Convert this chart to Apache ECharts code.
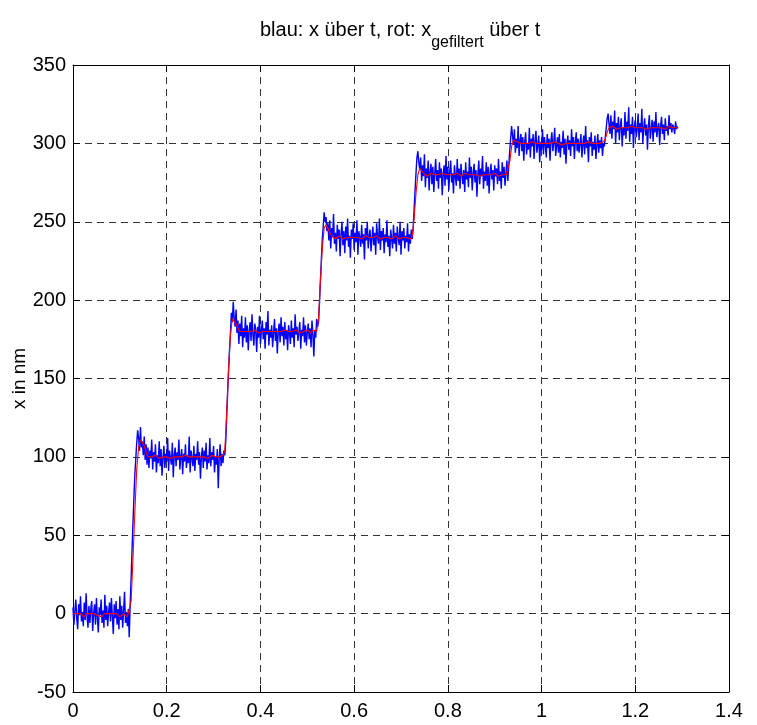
<!DOCTYPE html>
<html lang="de">

<head>
  <meta charset="UTF-8">
  <title>x ueber t</title>
  <style>
    html, body {
      margin: 0;
      padding: 0;
      background: #fff;
    }

    #chart {
      width: 757px;
      height: 725px;
    }
  </style>
  <script src="https://cdn.jsdelivr.net/npm/echarts@6/dist/echarts.min.js"></script>
</head>

<body>
  <div id="chart"></div>
  <script>
    // sample spacing (seconds): raw trace is sampled twice as dense as the filtered one
    var DT_BLUE = 0.002;
    var DT_RED = 0.004;

    // blue: raw x over t (nm)
    var blueNm = [
      // level 0
      4, -7, 2, 9, -3, -10, 6, -1, 11, -5,
      1, -8, 7, -4, 13, -2, -9, 5, -6, 3,
      8, -11, 0, 6, -7, 10, -3, -12, 4, -1,
      9, -6, 2, -9, 12, -4, 5, -8, 1, 7,
      -5, 10, -2, -13, 6, -3, 8, -7, 3, -10,
      11, -4, 5, -9, 2, 14, -6, 1, -8, 3,
      // step to 100
      -15, 6, 22, 41, 58, 74, 89, 99, 109, 117,
      112, 104, 119, 106, 110, 101, 113, 98, 108, 95,
      106, 93, 104, 99, 111, 92, 103, 97, 108, 90,
      101, 96, 110, 94, 105, 88, 99, 107, 93, 102,
      97, 112, 91, 104, 99, 95, 109, 87, 101, 106,
      94, 103, 98, 111, 92, 100, 105, 89, 102, 97,
      108, 93, 101, 96, 113, 90, 104, 99, 94, 107,
      91, 102, 98, 110, 95, 103, 86, 100, 106, 93,
      104, 97, 109, 92, 101, 96, 112, 94, 103, 98,
      107, 90, 100, 95, 105, 80, 99, 108, 94, 102,
      96, 104,
      // step to 180
      101, 110, 126, 141, 155, 168, 179, 192, 186, 199,
      188, 183, 194, 179, 187, 172, 185, 177, 190, 170,
      182, 176, 189, 173, 184, 168, 180, 186, 174, 191,
      178, 171, 185, 181, 167, 183, 176, 190, 172, 180,
      187, 175, 182, 169, 186, 178, 193, 171, 181, 176,
      184, 170, 179, 188, 174, 182, 166, 180, 185, 173,
      189, 177, 183, 171, 186, 175, 181, 168, 184, 179,
      172, 187, 176, 182, 170, 191, 178, 183, 174, 180,
      186, 169, 181, 177, 189, 173, 184, 171, 179, 185,
      175, 182, 170, 187, 178, 164, 181, 176, 188, 183,
      // step to 240
      186, 198, 212, 226, 239, 247, 256, 250,
      253, 244, 249, 238, 251, 233, 246, 240, 255, 236,
      243, 231, 248, 239, 245, 228, 242, 250, 235, 244,
      230, 247, 238, 252, 234, 241, 227, 245, 239, 249,
      232, 243, 237, 251, 229, 244, 240, 234, 248, 236,
      242, 226, 246, 238, 250, 233, 241, 245, 231, 239,
      247, 235, 243, 229, 249, 240, 236, 252, 232, 244,
      238, 246, 230, 242, 237, 251, 234, 241, 228, 245,
      239, 233, 248, 236, 243, 231, 247, 240, 235, 250,
      229, 244, 238, 246, 233, 241, 237, 249, 231, 242,
      236, 245, 239,
      // step to 280
      246, 258, 270, 281, 291, 295,
      288, 283, 291, 276, 286, 279, 293, 272, 284, 278,
      289, 270, 282, 287, 274, 285, 269, 281, 290, 276,
      283, 271, 288, 278, 284, 267, 280, 286, 273, 292,
      277, 285, 270, 282, 289, 275, 281, 268, 286, 279,
      273, 290, 276, 284, 271, 287, 280, 274, 283, 269,
      288, 277, 282, 272, 291, 278, 285, 270, 281, 287,
      275, 283, 266, 280, 289, 274, 284, 279, 292, 271,
      282, 276, 288, 273, 285, 268, 281, 287, 277, 283,
      270, 286, 279, 284, 274, 290, 276, 282, 271, 288,
      278, 285, 273, 281, 289, 276,
      // step to 300
      286, 295, 303, 311,
      305, 299, 309, 294, 303, 297, 311, 292, 302, 306,
      295, 304, 289, 301, 307, 293, 300, 296, 310, 291,
      303, 298, 306, 290, 302, 308, 294, 299, 305, 288,
      301, 296, 309, 293, 304, 299, 291, 306, 297, 303,
      289, 302, 307, 295, 300, 310, 292, 298, 304, 294,
      306, 291, 301, 297, 308, 293, 303, 287, 300, 305,
      296, 302, 292, 309, 298, 304, 290, 301, 307, 295,
      303, 294, 300, 306, 291, 299, 305, 293, 311, 297,
      302, 288, 304, 298, 307, 292, 301, 296, 305, 290,
      299, 306, 294, 302, 297, 304, 292, 300,
      // step to 310
      298, 304, 310, 316, 319,
      312, 306, 318, 303, 314, 309, 321, 300, 313, 307,
      317, 302, 311, 316, 298, 310, 305, 320, 303, 314,
      308, 323, 301, 312, 306, 317, 297, 311, 315, 304,
      309, 319, 302, 313, 307, 322, 300, 310, 316, 305,
      312, 296, 311, 318, 303, 309, 315, 301, 314, 307,
      320, 304, 310, 313, 299, 311, 317, 306, 312, 302,
      316, 308, 311, 305, 318, 309, 313, 307, 312, 310,
      306, 314, 309, 311
    ];

    // red: filtered x over t (nm)
    var redNm = [
      0, -1, 0, 1, 0, -1, -2, 0, 1, 0, -1, 0, 1, -1, 0, -2, -1, 0, 1, 0, -1, 0, 1, 0, -1, -2, -1, 0, -1, -2,
      -3, 8, 35, 65, 92, 106, 111, 110,
      107, 103, 100, 99, 100, 100, 101, 100, 99, 100, 100, 101, 100, 100, 99, 100, 100, 101, 100, 99, 100, 100, 101,
      100, 100, 99, 100, 101, 100, 99, 100, 101, 100, 100, 99, 100, 101, 100, 100, 99, 100, 100, 101,
      104, 128, 156, 178, 188, 189, 185,
      182, 180, 179, 180, 181, 180, 179, 180, 180, 181, 180, 179, 180, 180, 181, 180, 179, 180, 180, 180, 181, 180,
      179, 180, 180, 181, 180, 180, 179, 180, 180, 181, 180, 179, 180, 180, 180, 181, 180, 179, 181, 180, 180,
      188, 212, 233, 246, 248, 246,
      243, 241, 240, 239, 240, 241, 240, 239, 240, 240, 241, 240, 239, 240, 241, 240, 240, 239, 240, 241, 240, 240,
      239, 240, 240, 241, 240, 239, 240, 240, 241, 240, 240, 239, 240, 241, 240, 239, 240, 240, 241, 240, 240, 239, 241,
      252, 268, 280, 284, 283,
      281, 280, 279, 280, 281, 280, 280, 279, 280, 280, 281, 280, 280, 279, 280, 280, 280, 280, 281, 280, 279, 280,
      281, 280, 280, 279, 280, 281, 280, 280, 279, 280, 280, 281, 280, 279, 280, 280, 281, 280, 279, 280, 280, 281, 280, 281,
      288, 298, 302,
      302, 301, 300, 300, 301, 300, 299, 300, 300, 301, 300, 300, 299, 300, 301, 300, 300, 300, 299, 300, 300, 301,
      300, 300, 300, 299, 300, 300, 301, 300, 299, 300, 300, 300, 301, 300, 299, 300, 300, 301, 300, 300, 299, 300,
      301, 300, 300, 301,
      303, 307, 310,
      311, 311, 310, 309, 310, 310, 311, 310, 309, 310, 310, 311, 310, 310, 309, 310, 311, 310, 310, 309, 310, 310,
      311, 310, 309, 310, 311, 310, 310, 309, 310, 311, 310, 310, 311, 310, 310
    ];

    var xRange = [0, 1.4, 0.2];
    var yRange = [-50, 350, 50];

    function toPairs(values, dt) {
      return values.map(function (v, i) {
        return [Math.round(i * dt * 1000) / 1000, v];
      });
    }

    var font = 'Liberation Sans, Arial, Helvetica, sans-serif';
    var gridLine = { show: true, lineStyle: { color: '#333', type: [7, 5], width: 1 } };
    var axisLine = { show: true, onZero: false, lineStyle: { color: '#000', width: 1 } };
    var tickIn = { show: true, inside: true, length: 7, lineStyle: { color: '#000' } };

    var chart = echarts.init(document.getElementById('chart'));
    chart.setOption({
      animation: false,
      backgroundColor: '#fff',
      title: {
        text: '{m|blau: x über t, rot: x}{s|gefiltert}{m| über t}',
        left: 255,
        top: 15,
        textStyle: {
          fontWeight: 'normal',
          rich: {
            m: { fontFamily: font, fontSize: 20, fontWeight: 'normal', color: '#000', lineHeight: 23, verticalAlign: 'top' },
            s: { fontFamily: font, fontSize: 16, fontWeight: 'normal', color: '#000', lineHeight: 31, verticalAlign: 'bottom' }
          }
        }
      },
      grid: { left: 73, right: 28, top: 65, bottom: 33 },
      xAxis: [{
        type: 'value',
        min: xRange[0], max: xRange[1], interval: xRange[2],
        position: 'bottom',
        axisLine: axisLine,
        axisTick: tickIn,
        splitLine: gridLine,
        axisLabel: { color: '#000', fontFamily: font, fontSize: 20, margin: 9 }
      }, {
        type: 'value',
        min: xRange[0], max: xRange[1], interval: xRange[2],
        position: 'top',
        axisLine: axisLine,
        axisTick: tickIn,
        splitLine: { show: false },
        axisLabel: { show: false }
      }],
      yAxis: [{
        type: 'value',
        min: yRange[0], max: yRange[1], interval: yRange[2],
        position: 'left',
        name: 'x in nm',
        nameLocation: 'middle',
        nameGap: 44,
        nameMoveOverlap: false,
        nameTextStyle: { color: '#000', fontFamily: font, fontSize: 19 },
        axisLine: axisLine,
        axisTick: tickIn,
        splitLine: gridLine,
        axisLabel: { color: '#000', fontFamily: font, fontSize: 20, margin: 7 }
      }, {
        type: 'value',
        min: yRange[0], max: yRange[1], interval: yRange[2],
        position: 'right',
        axisLine: axisLine,
        axisTick: tickIn,
        splitLine: { show: false },
        axisLabel: { show: false }
      }],
      series: [{
        name: 'x',
        type: 'line',
        data: toPairs(blueNm, DT_BLUE),
        showSymbol: false,
        lineStyle: { color: '#0000ff', width: 1.4 },
        itemStyle: { color: '#0000ff' },
        z: 2
      }, {
        name: 'x gefiltert',
        type: 'line',
        data: toPairs(redNm, DT_RED),
        showSymbol: false,
        lineStyle: { color: '#ff0000', width: 1.1 },
        itemStyle: { color: '#ff0000' },
        z: 3
      }]
    });
  </script>
</body>

</html>
